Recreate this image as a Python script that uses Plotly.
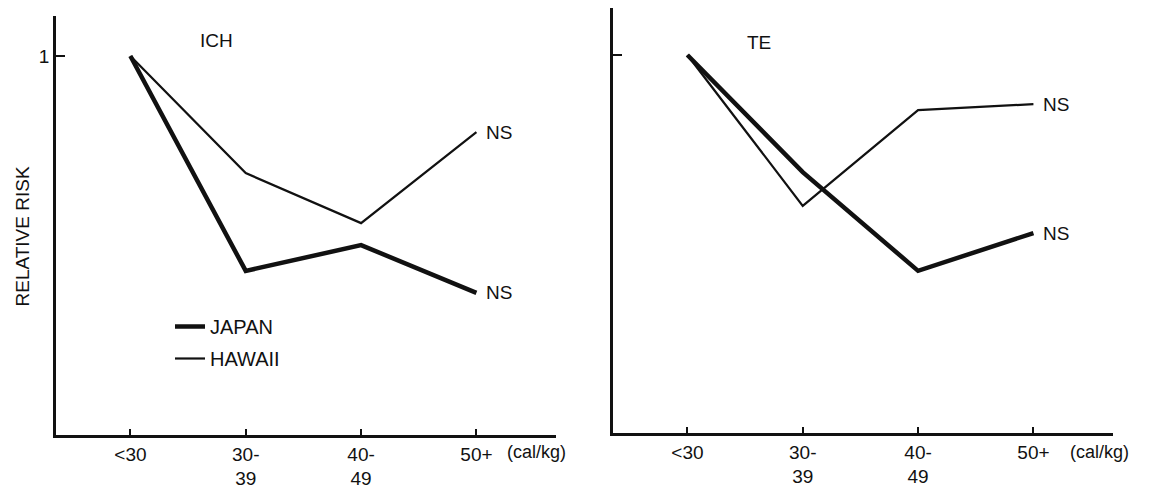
import plotly.graph_objects as go

# ---- data ----
categories = ["<30", "30-39", "40-49", "50+"]
tick_labels = ["<30", "30-<br>39", "40-<br>49", "50+"]

ich_japan = [1.0, 0.433, 0.501, 0.375]
ich_hawaii = [1.0, 0.691, 0.559, 0.799]
te_japan = [1.0, 0.690, 0.429, 0.529]
te_hawaii = [1.0, 0.601, 0.854, 0.870]

panel_titles = ["ICH", "TE"]
series_names = ["JAPAN", "HAWAII"]
end_label = "NS"
unit_label = "(cal/kg)"
y_title = "RELATIVE RISK"

FONT = "Liberation Sans, Arial, Helvetica, sans-serif"
INK = "#111111"
W, H = 1150, 490
OFF = 8  # page body margin offset


def px(v):
    return (v - OFF) / W


def py(v):
    return (H - (v - OFF)) / H


fig = go.Figure()

fig.add_trace(go.Scatter(x=categories, y=ich_japan, mode="lines", name=series_names[0],
                         line=dict(color=INK, width=4.5), xaxis="x", yaxis="y",
                         legendgroup="j", showlegend=True))
fig.add_trace(go.Scatter(x=categories, y=ich_hawaii, mode="lines", name=series_names[1],
                         line=dict(color=INK, width=2.2), xaxis="x", yaxis="y",
                         legendgroup="h", showlegend=True))
fig.add_trace(go.Scatter(x=categories, y=te_japan, mode="lines", name=series_names[0],
                         line=dict(color=INK, width=4.5), xaxis="x2", yaxis="y2",
                         legendgroup="j", showlegend=False))
fig.add_trace(go.Scatter(x=categories, y=te_hawaii, mode="lines", name=series_names[1],
                         line=dict(color=INK, width=2.2), xaxis="x2", yaxis="y2",
                         legendgroup="h", showlegend=False))

xr = [-0.645, 3.69]
common_x = dict(type="category", range=xr, showline=True, linecolor=INK, linewidth=2.8,
                ticks="inside", ticklen=6, tickwidth=1.5, tickcolor=INK,
                tickmode="array", tickvals=categories, ticktext=tick_labels,
                showgrid=False, zeroline=False,
                tickfont=dict(family=FONT, size=19, color=INK))
common_y = dict(showline=True, linecolor=INK, linewidth=2.8, ticks="inside", ticklen=9,
                tickwidth=2, tickcolor=INK, tickmode="array", tickvals=[1], ticktext=["1"],
                showgrid=False, zeroline=False,
                tickfont=dict(family=FONT, size=19, color=INK))

fig.update_layout(
    width=W, height=H,
    margin=dict(l=0, r=0, t=0, b=0),
    paper_bgcolor="white", plot_bgcolor="white",
    xaxis=dict(common_x, domain=[px(56), px(556)], anchor="y"),
    yaxis=dict(common_y, domain=[py(435), py(16)], range=[0, 1.1055], anchor="x"),
    xaxis2=dict(common_x, domain=[px(613), px(1113)], anchor="y2"),
    yaxis2=dict(common_y, domain=[py(433), 1.0], range=[0, 425 / 378], anchor="x2",
                showticklabels=False),
    showlegend=True,
    legend=dict(x=px(170), y=py(307), xanchor="left", yanchor="top",
                font=dict(family=FONT, size=20, color=INK),
                bgcolor="rgba(0,0,0,0)", tracegroupgap=3, traceorder="grouped"),
)

ann = []
for xa, ya, series in (("x", "y", ich_japan), ("x", "y", ich_hawaii),
                       ("x2", "y2", te_japan), ("x2", "y2", te_hawaii)):
    ann.append(dict(x=categories[-1], y=series[-1], xref=xa, yref=ya, text=end_label,
                    showarrow=False, xanchor="left", yanchor="middle", xshift=8,
                    font=dict(family=FONT, size=19, color=INK)))
ann.append(dict(x=px(198), y=py(40), xref="paper", yref="paper", text=panel_titles[0],
                showarrow=False, xanchor="left", yanchor="middle",
                font=dict(family=FONT, size=19, color=INK)))
ann.append(dict(x=px(745), y=py(43), xref="paper", yref="paper", text=panel_titles[1],
                showarrow=False, xanchor="left", yanchor="middle",
                font=dict(family=FONT, size=19, color=INK)))
for xp in (505, 1068):
    ann.append(dict(x=px(xp), y=py(452), xref="paper", yref="paper", text=unit_label,
                    showarrow=False, xanchor="left", yanchor="middle",
                    font=dict(family=FONT, size=18, color=INK)))
ann.append(dict(x=0.0, y=py(237), xref="paper", yref="paper", text=y_title,
                showarrow=False, textangle=-90, xanchor="left", yanchor="middle",
                xshift=1, font=dict(family=FONT, size=19, color=INK)))
fig.update_layout(annotations=ann)

fig.write_html("out.html")
